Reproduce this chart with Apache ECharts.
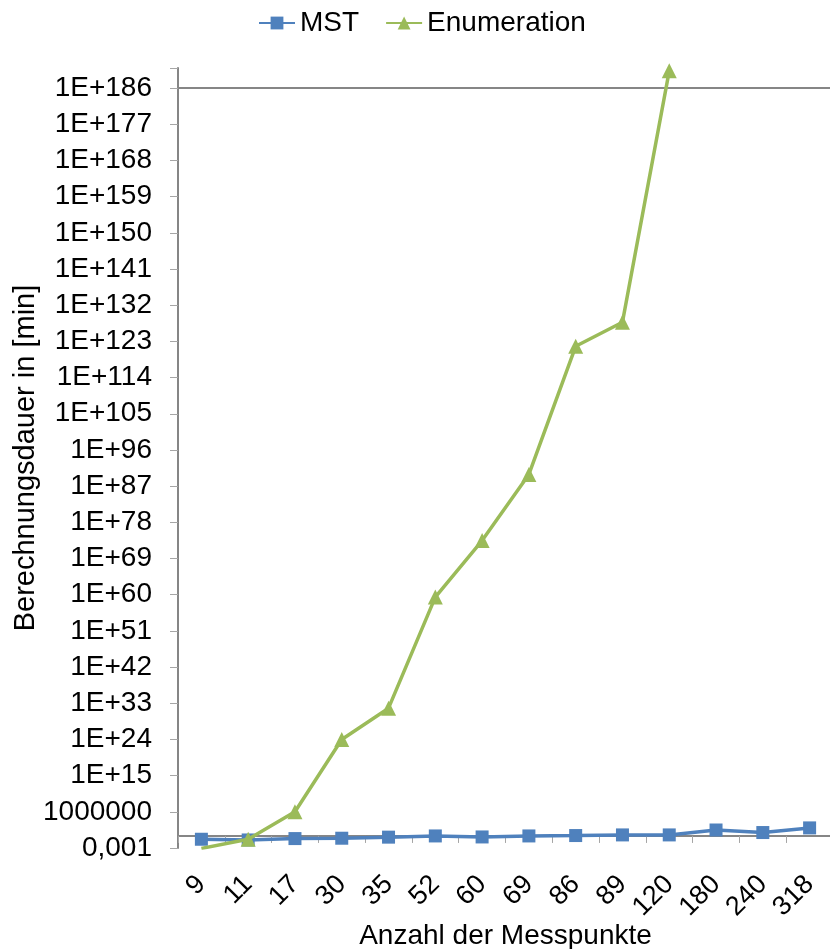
<!DOCTYPE html>
<html>
<head>
<meta charset="utf-8">
<script src="https://cdn.jsdelivr.net/npm/echarts@6/dist/echarts.min.js"></script>
<style>
  html, body { margin: 0; padding: 0; background: #fff; }
  #chart { width: 830px; height: 949px; }
</style>
</head>
<body>
<div id="chart"></div>
<script>
// Kategorien (Anzahl der Messpunkte)
const categories = ['9', '11', '17', '30', '35', '52', '60', '69', '86', '89', '120', '180', '240', '318']

// Berechnungsdauer in [min]
const mstValues = [0.15, 0.1, 0.22, 0.27, 0.5, 1, 0.56, 1, 1.25, 1.8, 1.8, 30, 7, 100]
const enumerationValues = [0.0008, 0.15, 1e6, 1e24, 6e31, 2.5e59, 3e73, 8e89, 6e121, 6e127, 2e190, null, null, null]

// Beschriftungen der y-Achse (Schritt 1E+9)
const yTickLabels = ['0,001', '1000000', '1E+15', '1E+24', '1E+33', '1E+42', '1E+51', '1E+60', '1E+69',
  '1E+78', '1E+87', '1E+96', '1E+105', '1E+114', '1E+123', '1E+132', '1E+141', '1E+150', '1E+159',
  '1E+168', '1E+177', '1E+186']

const yMin = 1e-3
const yMax = 1e191
const crossAt = 1          // x-Achse schneidet bei 1 (wie in Excel)
const topLine = 1e186

const FONT = 'Liberation Sans, Arial, sans-serif'
const gridTop = 68
const gridHeight = 780

// Abstand der x-Achse vom unteren Rand: Lage von "crossAt" auf der log-Skala
const decades = Math.log10(yMax) - Math.log10(yMin)
const crossOffset = (Math.log10(crossAt) - Math.log10(yMin)) / decades * gridHeight

const chart = echarts.init(document.getElementById('chart'))

chart.setOption({
  animation: false,
  textStyle: { fontFamily: FONT },
  legend: {
    top: 4,
    left: 253,
    itemWidth: 36,
    itemHeight: 16,
    itemGap: 26,
    textStyle: { fontSize: 28, color: '#000', fontFamily: FONT },
    data: ['MST', 'Enumeration']
  },
  grid: {
    left: 178,
    top: gridTop,
    width: 655,
    height: gridHeight,
    containLabel: false,
    outerBoundsMode: 'none'
  },
  xAxis: {
    type: 'category',
    data: categories,
    boundaryGap: true,
    offset: -crossOffset,
    axisLine: { show: true, lineStyle: { color: '#868686', width: 2 } },
    axisTick: { show: true, length: 7, interval: 0, lineStyle: { color: '#a6a6a6', width: 1 } },
    axisLabel: {
      interval: 0,
      rotate: 45,
      margin: 32 + crossOffset,
      fontSize: 27,
      color: '#000',
      fontFamily: FONT
    },
    name: 'Anzahl der Messpunkte',
    nameLocation: 'middle',
    nameGap: 86,
    nameMoveOverlap: false,
    nameTextStyle: { fontSize: 28, color: '#000', fontFamily: FONT },
    splitLine: { show: false }
  },
  yAxis: {
    type: 'log',
    logBase: 10,
    min: yMin,
    max: yMax,
    interval: 9,
    axisLine: { show: true, lineStyle: { color: '#868686', width: 2 } },
    axisTick: { show: true, length: 8, lineStyle: { color: '#a6a6a6', width: 1 } },
    axisLabel: {
      margin: 26,
      fontSize: 28,
      color: '#000',
      fontFamily: FONT,
      formatter: (value) => {
        const k = Math.round((Math.log10(value) + 3) / 9)
        return yTickLabels[k] !== undefined && Math.abs(Math.log10(value) - (k * 9 - 3)) < 0.5 ? yTickLabels[k] : ''
      }
    },
    splitLine: { show: false },
    name: 'Berechnungsdauer in [min]',
    nameLocation: 'middle',
    nameGap: 138,
    nameMoveOverlap: false,
    nameTextStyle: { fontSize: 29, color: '#000', fontFamily: FONT }
  },
  series: [
    {
      name: 'MST',
      type: 'line',
      data: mstValues,
      symbol: 'rect',
      symbolSize: 13,
      itemStyle: { color: '#4F81BD' },
      lineStyle: { color: '#4F81BD', width: 3.5 },
      z: 3
    },
    {
      name: 'Enumeration',
      type: 'line',
      data: enumerationValues,
      symbol: 'triangle',
      symbolSize: 15,
      itemStyle: { color: '#9BBB59' },
      lineStyle: { color: '#9BBB59', width: 3.5 },
      z: 4,
      markLine: {
        silent: true,
        symbol: 'none',
        label: { show: false },
        lineStyle: { color: '#868686', width: 2, type: 'solid' },
        z: 1,
        data: [{ yAxis: topLine }]
      }
    }
  ]
})
</script>
</body>
</html>
